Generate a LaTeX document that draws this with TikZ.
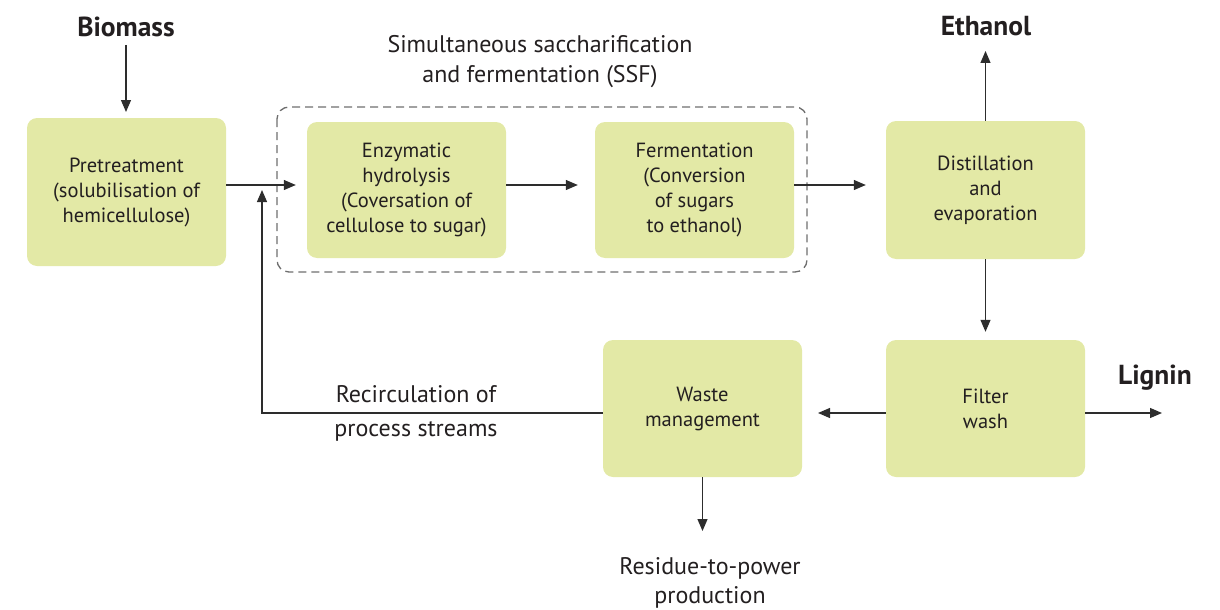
\documentclass[tikz,border=0pt]{standalone}
\usepackage{fontspec}
\setmainfont{PT Sans}
\usetikzlibrary{arrows.meta,calc}
\definecolor{boxfill}{RGB}{227,233,166}
\definecolor{ink}{RGB}{35,31,32}
\definecolor{linec}{RGB}{45,45,45}
\definecolor{dashc}{RGB}{110,110,110}
\tikzset{
  stepbox/.style={fill=boxfill, rounded corners=10pt, inner sep=0pt, align=center, text=ink,
     font=\fontsize{20.5}{25}\selectfont},
  biglabel/.style={font=\bfseries\fontsize{27.5}{30}\selectfont, text=ink, inner sep=0pt},
  sidelabel/.style={font=\fontsize{24}{30}\selectfont, text=ink, align=center, inner sep=0pt},
  arr/.style={draw=linec, line width=1.2pt, -{Triangle[length=12pt,width=10pt]}},
}
\begin{document}
\begin{tikzpicture}[x=1pt,y=-1pt]
\useasboundingbox (0,0) rectangle (1220,610);
% SSF frame
\draw[dashc, line width=1.3pt, dash pattern=on 8pt off 5pt, rounded corners=12pt] (277,107) rectangle (807,272);
% boxes
\node[stepbox, minimum width=199pt, minimum height=148pt] (pre) at (126.5,192) {Pretreatment\\(solubilisation of\\hemicellulose)};
\node[stepbox, minimum width=199pt, minimum height=136pt] (enz) at (406.5,190) {Enzymatic\\hydrolysis\\(Coversation of\\cellulose to sugar)};
\node[stepbox, minimum width=199pt, minimum height=136pt] (fer) at (694.5,190) {Fermentation\\(Conversion\\of sugars\\to ethanol)};
\node[stepbox, minimum width=199pt, minimum height=138pt] (dis) at (985.5,190) {Distillation\\and\\evaporation};
\node[stepbox, minimum width=199pt, minimum height=137pt] (fil) at (985.5,408.5) {Filter\\wash};
\node[stepbox, minimum width=199pt, minimum height=137pt] (was) at (702.5,408.5) {Waste\\management};
% labels
\node[biglabel] (bio) at (126,27) {Biomass};
\node[biglabel] (eth) at (986,26) {Ethanol};
\node[biglabel] (lig) at (1155,378) {Lignin};
\node[sidelabel] (ssf) at (540,62) {Simultaneous saccharification\\and fermentation (SSF)};
\node[sidelabel, font=\fontsize{24}{34}\selectfont] (rec) at (416,413) {Recirculation of\\process streams};
\node[sidelabel, font=\fontsize{24}{29}\selectfont] (res) at (710,583) {Residue-to-power\\production};
% row coordinates
\coordinate (rowa) at (0,185);
\coordinate (rowb) at (0,413);
\coordinate (rc) at (262,190);
\coordinate (ligend) at (1162,413);
\coordinate (wasend) at (818,413);
% connectors
\draw[arr] (bio.south |- 0,45) -- (bio.south |- 0,112);
\draw[arr] (pre.east |- rowa) -- ([xshift=-11pt]enz.west |- rowa);
\draw[arr] (enz.east |- rowa) -- ([xshift=-17pt]fer.west |- rowa);
\draw[arr] (fer.east |- rowa) -- ([xshift=-20pt]dis.west |- rowa);
\draw[arr] (dis.north) -- (dis.north |- 0,51);
\draw[arr] (dis.south) -- ([yshift=8pt]fil.north);
\draw[arr] (fil.east |- rowb) -- (ligend);
\draw[arr] (fil.west |- rowb) -- (wasend);
\draw[arr] (was.south) -- (was.south |- 0,531);
\draw[arr] (was.west |- rowb) -| (rc);
\end{tikzpicture}
\end{document}
